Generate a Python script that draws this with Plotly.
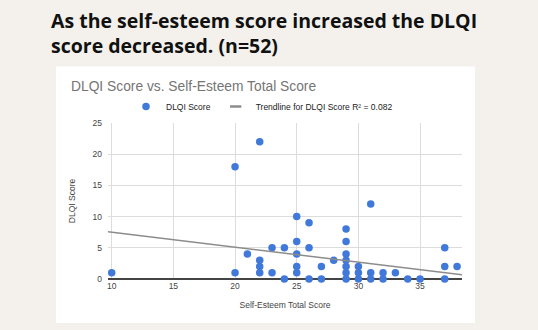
import plotly.graph_objects as go

# Data
self_esteem = [10, 20, 20, 21, 22, 22, 22, 22, 23, 23, 24, 24,
               25, 25, 25, 25, 25, 26, 26, 26, 27, 27, 28,
               29, 29, 29, 29, 29, 29, 29, 30, 30, 30, 31, 31, 31,
               32, 32, 33, 34, 35, 37, 37, 37, 38]
dlqi = [1, 18, 1, 4, 22, 3, 2, 1, 5, 1, 5, 0,
        10, 6, 4, 2, 1, 9, 5, 0, 2, 0, 3,
        8, 6, 4, 3, 2, 1, 0, 2, 1, 0, 12, 1, 0,
        1, 0, 1, 0, 0, 5, 2, 0, 2]
trend_intercept = 9.9
trend_slope = -0.24
x_range = [9.7, 38.4]
x_ticks = [10, 15, 20, 25, 30, 35]
y_ticks = [0, 5, 10, 15, 20, 25]

W, H = 538, 330
L, R, T, B = 108, 462, 123, 279  # plot area in px


def px_x(p):
    return (p - L) / (R - L)


def px_y(p):
    return (B - p) / (B - T)


trend_x = x_range
trend_y = [trend_intercept + trend_slope * v for v in trend_x]
trend_name = "Trendline for DLQI Score R² = 0.082"

fig = go.Figure()
fig.add_trace(go.Scatter(
    x=self_esteem, y=dlqi, mode="markers", name="DLQI Score",
    marker=dict(color="#4079d9", size=7.5, line=dict(width=0)),
    cliponaxis=False,
))
fig.add_trace(go.Scatter(
    x=trend_x, y=trend_y, mode="lines", name=trend_name, showlegend=False,
    line=dict(color="#8c8c8c", width=1.5),
))
# short dash legend key like the original
fig.add_trace(go.Scatter(
    x=[None], y=[None], mode="markers", name=trend_name,
    marker=dict(symbol="line-ew-open", size=8, color="#8c8c8c",
                line=dict(color="#8c8c8c", width=2.5)),
))

font_small = dict(family="Arial, Liberation Sans, sans-serif", size=8.5, color="#444444")

fig.update_layout(
    width=W, height=H,
    margin=dict(l=L, r=W - R, t=T, b=H - B, pad=0),
    paper_bgcolor="#f4f1ec",
    plot_bgcolor="#ffffff",
    showlegend=True,
    legend=dict(orientation="h", x=px_x(262), xanchor="center",
                y=px_y(106.5), yanchor="middle",
                font=dict(family="Arial, Liberation Sans, sans-serif", size=8.5, color="#222222"),
                bgcolor="rgba(0,0,0,0)", itemwidth=30),
    xaxis=dict(range=x_range, tickvals=x_ticks, showgrid=True, gridcolor="#dcdcdc",
               gridwidth=1, zeroline=False, showline=False, ticks="",
               tickfont=font_small,
               title=dict(text="Self-Esteem Total Score", font=font_small, standoff=12)),
    yaxis=dict(range=[0, 25], tickvals=y_ticks, showgrid=True, gridcolor="#dcdcdc",
               gridwidth=1, zeroline=True, zerolinecolor="#444444", zerolinewidth=1.5,
               showline=False, ticks="", tickfont=font_small, ticklabelstandoff=5,
               title=dict(text="DLQI Score", font=font_small, standoff=15)),
    shapes=[dict(type="rect", xref="paper", yref="paper", layer="below",
                 x0=px_x(56), x1=px_x(475), y0=px_y(323), y1=px_y(66.5),
                 fillcolor="#ffffff", line=dict(width=0))],
    annotations=[
        dict(text="As the self-esteem score increased the DLQI<br>score decreased. (n=52)",
             xref="paper", yref="paper", align="left",
             x=px_x(49), y=px_y(32.5), xanchor="left", yanchor="middle", showarrow=False,
             font=dict(family="Open Sans, sans-serif", size=19.5, color="#111111", weight=700)),
        dict(text="DLQI Score vs. Self-Esteem Total Score", xref="paper", yref="paper",
             x=px_x(69), y=px_y(86), xanchor="left", yanchor="middle", showarrow=False,
             font=dict(family="Arial, Liberation Sans, sans-serif", size=13.8, color="#757575")),
    ],
)

fig.write_html("out.html")
